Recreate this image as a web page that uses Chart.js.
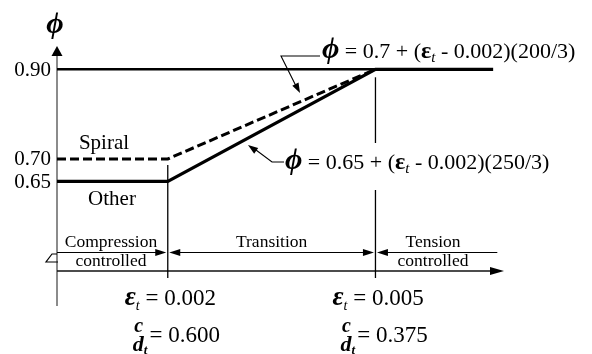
<!DOCTYPE html>
<html>
<head>
<meta charset="utf-8">
<script src="https://cdn.jsdelivr.net/npm/chart.js@4/dist/chart.umd.min.js"></script>
<style>
  html, body { margin: 0; padding: 0; background: #fff; }
  #wrap { width: 592px; height: 354px; }
</style>
</head>
<body>
<div id="wrap"><canvas id="phiChart" width="592" height="354"></canvas></div>
<script>
/* ================== DATA ================== */
const strainX   = [0.0004, 0.002, 0.005, 0.0067];
const phiOther  = [0.65, 0.65, 0.90, 0.90];
const phiSpiral = [0.70, 0.70, 0.90, null];
const phiLimit  = [0.90, 0.90, 0.90, null];
const phiTicks  = [0.90, 0.70, 0.65];
const strainTicks = [0.002, 0.005];
const cdLabels  = ["0.600", "0.375"];
const zoneLabels = [["Compression", "controlled"], ["Transition"], ["Tension", "controlled"]];
const zoneEdges = [0.0004, 0.002, 0.005, 0.00676];

const SERIF = "'Liberation Serif', 'Times New Roman', serif";

/* ================== HELPERS ================== */
function toPoints(ys) {
  return strainX.map((x, i) => ({ x, y: ys[i] }));
}

// draw a row of text pieces with different fonts, left aligned at x
function drawRuns(ctx, x, y, parts, measureOnly) {
  let cx = x;
  parts.forEach(p => {
    ctx.font = p[1];
    if (!measureOnly) ctx.fillText(p[0], cx, y + (p[2] || 0));
    cx += ctx.measureText(p[0]).width;
  });
  return cx - x;
}

function arrowHead(ctx, x, y, dir, len, half) {
  // dir: angle in radians the arrow points to
  ctx.save();
  ctx.translate(x, y);
  ctx.rotate(dir);
  ctx.beginPath();
  ctx.moveTo(0, 0);
  ctx.lineTo(-len, -half);
  ctx.lineTo(-len, half);
  ctx.closePath();
  ctx.fill();
  ctx.restore();
}

function line(ctx, x1, y1, x2, y2) {
  ctx.beginPath();
  ctx.moveTo(x1, y1);
  ctx.lineTo(x2, y2);
  ctx.stroke();
}

/* ================== DIAGRAM PARTS ================== */
const diagramPlugin = {
  id: "diagram",
  beforeDatasetsDraw(chart) {
    const { ctx, scales: { x, y } } = chart;
    const ax = x.getPixelForValue(x.min);
    const axisY = y.getPixelForValue(y.min);
    ctx.save();

    // y axis
    ctx.strokeStyle = "#6e6e6e";
    ctx.lineWidth = 1.6;
    line(ctx, ax, 55, ax, 306);
    ctx.fillStyle = "#000";
    arrowHead(ctx, ax, 46, -Math.PI / 2, 10, 5.5);

    // break mark
    ctx.strokeStyle = "#000";
    ctx.lineWidth = 1.2;
    ctx.beginPath();
    ctx.moveTo(ax, 254);
    ctx.lineTo(52, 254);
    ctx.lineTo(46, 262);
    ctx.lineTo(ax + 1, 262);
    ctx.stroke();

    // x axis
    ctx.strokeStyle = "#111";
    ctx.lineWidth = 1.6;
    line(ctx, ax, axisY, 494, axisY);
    arrowHead(ctx, 504, axisY, 0, 14, 4);

    // vertical markers at the strain limits
    ctx.strokeStyle = "#000";
    ctx.lineWidth = 1.3;
    const p1 = x.getPixelForValue(strainTicks[0]);
    const p2 = x.getPixelForValue(strainTicks[1]);
    line(ctx, p1, y.getPixelForValue(0.70) + 6, p1, axisY + 7);
    line(ctx, p2, y.getPixelForValue(0.90) + 8, p2, axisY + 7);

    // zone arrows
    const zy = 252.5;
    const z = zoneEdges.map(v => x.getPixelForValue(v));
    ctx.lineWidth = 1.2;
    line(ctx, z[0], zy, z[1] - 4, zy);
    arrowHead(ctx, z[1] - 1.5, zy, 0, 11, 3.5);
    line(ctx, z[1] + 4, zy, z[2] - 4, zy);
    arrowHead(ctx, z[1] + 1.5, zy, Math.PI, 11, 3.5);
    arrowHead(ctx, z[2] - 1.5, zy, 0, 11, 3.5);
    line(ctx, z[2] + 4, zy, z[3], zy);
    arrowHead(ctx, z[2] + 1.5, zy, Math.PI, 11, 3.5);

    ctx.restore();
  },
  afterDatasetsDraw(chart) {
    const { ctx, scales: { x, y } } = chart;
    const ax = x.getPixelForValue(x.min);
    ctx.save();
    ctx.fillStyle = "#000";
    ctx.textBaseline = "alphabetic";

    // phi axis title
    ctx.font = `bold italic 30px ${SERIF}`;
    ctx.textAlign = "center";
    ctx.fillText("\u03D5", ax - 2, 33);

    // tick labels
    ctx.font = `21px ${SERIF}`;
    ctx.textAlign = "right";
    ctx.textBaseline = "middle";
    phiTicks.forEach(v => ctx.fillText(v.toFixed(2), 51, y.getPixelForValue(v) + 1));

    // series names
    ctx.textAlign = "center";
    ctx.textBaseline = "alphabetic";
    ctx.fillText("Spiral", 104, 149);
    ctx.fillText("Other", 112, 205);

    // zone labels
    ctx.font = `17.5px ${SERIF}`;
    const z = zoneEdges.map(v => x.getPixelForValue(v));
    const cx = [111, (z[1] + z[2]) / 2, 433];
    zoneLabels.forEach((lbl, i) => {
      lbl.forEach((t, j) => ctx.fillText(t, cx[i], 247 + j * 18.5));
    });

    ctx.textAlign = "left";

    // equation for spiral
    const eq1 = [
      ["\u03D5", `bold italic 30px ${SERIF}`],
      [" = 0.7 + (", `22px ${SERIF}`],
      ["\u03B5", `bold 24px ${SERIF}`],
      ["t", `italic 15px ${SERIF}`, 4],
      [" - 0.002)(200/3)", `22px ${SERIF}`]
    ];
    const w1 = drawRuns(ctx, 0, 0, eq1, true);
    ctx.fillStyle = "#fff";
    ctx.fillRect(320, 36, w1 + 4, 26);
    ctx.fillStyle = "#000";
    drawRuns(ctx, 322, 58, eq1);

    // equation for other
    const eq2 = [
      ["\u03D5", `bold italic 30px ${SERIF}`],
      [" = 0.65 + (", `22px ${SERIF}`],
      ["\u03B5", `bold 24px ${SERIF}`],
      ["t", `italic 15px ${SERIF}`, 4],
      [" - 0.002)(250/3)", `22px ${SERIF}`]
    ];
    const w2 = drawRuns(ctx, 0, 0, eq2, true);
    ctx.fillStyle = "#fff";
    ctx.fillRect(283, 143, w2 + 6, 47);
    ctx.fillStyle = "#000";
    drawRuns(ctx, 285, 169, eq2);

    // leaders
    ctx.strokeStyle = "#000";
    ctx.lineWidth = 1.1;
    ctx.beginPath();
    ctx.moveTo(320, 56);
    ctx.lineTo(281, 56);
    ctx.lineTo(296, 86);
    ctx.stroke();
    arrowHead(ctx, 300, 93, Math.atan2(37, 19), 10, 3.5);

    ctx.beginPath();
    ctx.moveTo(284, 162);
    ctx.lineTo(272, 162);
    ctx.lineTo(256, 150);
    ctx.stroke();
    arrowHead(ctx, 248, 145, Math.atan2(-17, -24), 10, 3.5);

    // strain / depth labels under the axis
    strainTicks.forEach((v, i) => {
      const px = x.getPixelForValue(v);
      drawRuns(ctx, px - 43, 305, [
        ["\u03B5", `bold italic 27px ${SERIF}`],
        ["t", `italic 14px ${SERIF}`, 5],
        [" = " + v.toFixed(3), `23px ${SERIF}`]
      ]);
      ctx.textAlign = "center";
      ctx.font = `bold italic 20px ${SERIF}`;
      ctx.fillText("c", px - 29, 332);
      ctx.textAlign = "left";
      drawRuns(ctx, px - 35, 351, [
        ["d", `bold italic 22px ${SERIF}`],
        ["t", `bold italic 13px ${SERIF}`, 3]
      ]);
      drawRuns(ctx, px - 24, 342, [[" = " + cdLabels[i], `23px ${SERIF}`]]);
    });

    ctx.restore();
  }
};

/* ================== CHART ================== */
const lineBase = {
  pointRadius: 0,
  fill: false,
  tension: 0,
  borderColor: "#000",
  borderCapStyle: "butt",
  borderJoinStyle: "miter",
  spanGaps: false
};

new Chart(document.getElementById("phiChart"), {
  type: "line",
  data: {
    datasets: [
      { ...lineBase, label: "0.90 limit", data: toPoints(phiLimit), borderWidth: 2.6 },
      { ...lineBase, label: "Spiral", data: toPoints(phiSpiral), borderWidth: 3, borderDash: [9, 4] },
      { ...lineBase, label: "Other", data: toPoints(phiOther), borderWidth: 3.2 }
    ]
  },
  options: {
    responsive: false,
    devicePixelRatio: 1,
    animation: false,
    layout: { padding: { left: 57, top: 48, right: 85, bottom: 83 } },
    plugins: { legend: { display: false }, tooltip: { enabled: false } },
    scales: {
      x: { type: "linear", min: 0.0004, max: 0.0069, display: false },
      y: { type: "linear", min: 0.45, max: 0.9475, display: false }
    }
  },
  plugins: [diagramPlugin]
});
</script>
</body>
</html>
